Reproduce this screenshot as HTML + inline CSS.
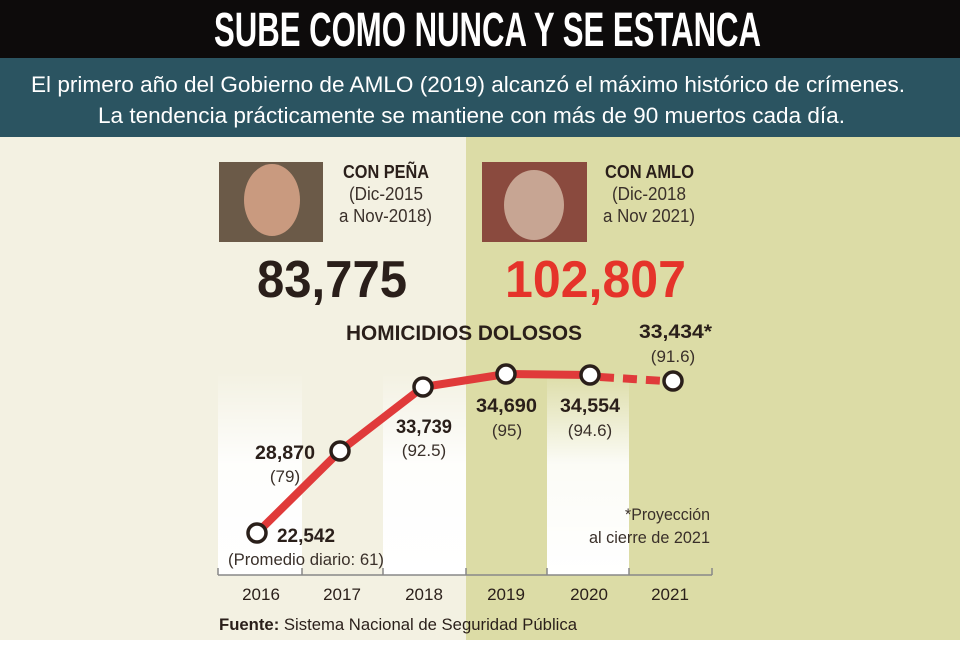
<!DOCTYPE html>
<html><head><meta charset="utf-8"><style>
body{margin:0;width:960px;height:640px;overflow:hidden;font-family:"Liberation Sans",sans-serif;}
</style></head><body>
<svg width="960" height="640" xmlns="http://www.w3.org/2000/svg" font-family="Liberation Sans, sans-serif">
<defs>
<linearGradient id="wg" x1="0" y1="0" x2="0" y2="1"><stop offset="0" stop-color="#fff" stop-opacity="0"/><stop offset="0.45" stop-color="#fff" stop-opacity="0.9"/><stop offset="1" stop-color="#fff"/></linearGradient>
</defs>
<rect x="0" y="0" width="960" height="640" fill="#f3f1e2"/>
<rect x="466" y="137" width="494" height="503" fill="#dcdca6"/>
<rect x="0" y="0" width="960" height="58" fill="#0d0b0b"/>
<rect x="0" y="58" width="960" height="79" fill="#2b5461"/>
<text x="214" y="46" textLength="547" lengthAdjust="spacingAndGlyphs" fill="#fff" font-size="48" font-weight="bold">SUBE COMO NUNCA Y SE ESTANCA</text>
<text x="31" y="92" textLength="874" lengthAdjust="spacingAndGlyphs" fill="#fff" font-size="22">El primero año del Gobierno de AMLO (2019) alcanzó el máximo histórico de crímenes.</text>
<text x="98" y="123" textLength="747" lengthAdjust="spacingAndGlyphs" fill="#fff" font-size="22">La tendencia prácticamente se mantiene con más de 90 muertos cada día.</text>
<rect x="218" y="372" width="84" height="203" fill="url(#wg)"/>
<rect x="383" y="372" width="83" height="203" fill="url(#wg)"/>
<rect x="547" y="372" width="82" height="203" fill="url(#wg)"/>
<rect x="219" y="162" width="104" height="80" fill="#6b5a48"/>
<ellipse cx="272" cy="200" rx="28" ry="36" fill="#c99a7f"/>
<rect x="482" y="162" width="105" height="80" fill="#8a4a3e"/>
<ellipse cx="534" cy="205" rx="30" ry="35" fill="#c7a593"/>
<g fill="#3a302a" font-size="18" lengthAdjust="spacingAndGlyphs">
<text x="343" y="178" textLength="86" fill="#2a1f1a" font-weight="bold" lengthAdjust="spacingAndGlyphs">CON PEÑA</text>
<text x="349" y="200" textLength="74" lengthAdjust="spacingAndGlyphs">(Dic-2015</text>
<text x="339" y="222" textLength="93" lengthAdjust="spacingAndGlyphs">a Nov-2018)</text>
<text x="605" y="178" textLength="89" fill="#2a1f1a" font-weight="bold" lengthAdjust="spacingAndGlyphs">CON AMLO</text>
<text x="612" y="200" textLength="74" lengthAdjust="spacingAndGlyphs">(Dic-2018</text>
<text x="603" y="222" textLength="92" lengthAdjust="spacingAndGlyphs">a Nov 2021)</text>
</g>
<text x="257" y="297" textLength="150" lengthAdjust="spacingAndGlyphs" fill="#2a1f1a" font-size="52" font-weight="bold">83,775</text>
<text x="505" y="297" textLength="181" lengthAdjust="spacingAndGlyphs" fill="#e5332a" font-size="52" font-weight="bold">102,807</text>
<text x="346" y="340" textLength="236" lengthAdjust="spacingAndGlyphs" fill="#2a1f1a" font-size="21" font-weight="bold">HOMICIDIOS DOLOSOS</text>
<line x1="218" y1="575" x2="712" y2="575" stroke="#888" stroke-width="1.5"/>
<g stroke="#888" stroke-width="1.5"><line x1="218" y1="568" x2="218" y2="575"/><line x1="302" y1="568" x2="302" y2="575"/><line x1="383" y1="568" x2="383" y2="575"/><line x1="466" y1="568" x2="466" y2="575"/><line x1="547" y1="568" x2="547" y2="575"/><line x1="629" y1="568" x2="629" y2="575"/><line x1="712" y1="568" x2="712" y2="575"/></g>
<g font-size="17" fill="#2a1f1a" text-anchor="middle"><text x="261" y="600">2016</text><text x="342" y="600">2017</text><text x="424" y="600">2018</text><text x="506" y="600">2019</text><text x="589" y="600">2020</text><text x="670" y="600">2021</text></g>
<polyline points="257,533 340,451 423,387 506,374 590,375" fill="none" stroke="#e03a3a" stroke-width="8" stroke-linejoin="round"/>
<line x1="600" y1="377" x2="665" y2="381" stroke="#e03a3a" stroke-width="8" stroke-dasharray="14,9"/>
<g fill="#fff" stroke="#2a1f1a" stroke-width="3.5">
<circle cx="257" cy="533" r="9"/><circle cx="340" cy="451" r="9"/><circle cx="423" cy="387" r="9"/><circle cx="506" cy="374" r="9"/><circle cx="590" cy="375" r="9"/><circle cx="673" cy="381" r="9"/></g>
<g font-size="19" fill="#2a1f1a">
<text x="277" y="542" textLength="58" lengthAdjust="spacingAndGlyphs" font-weight="bold">22,542</text>
<text x="228" y="565" textLength="156" lengthAdjust="spacingAndGlyphs" font-size="17" fill="#3a302a">(Promedio diario: 61)</text>
<text x="255" y="459" textLength="60" lengthAdjust="spacingAndGlyphs" font-weight="bold">28,870</text>
<text x="285" y="482" text-anchor="middle" font-size="17" fill="#3a302a">(79)</text>
<text x="396" y="433" textLength="56" lengthAdjust="spacingAndGlyphs" font-weight="bold">33,739</text>
<text x="424" y="456" text-anchor="middle" font-size="17" fill="#3a302a">(92.5)</text>
<text x="476" y="412" textLength="61" lengthAdjust="spacingAndGlyphs" font-weight="bold">34,690</text>
<text x="507" y="436" text-anchor="middle" font-size="17" fill="#3a302a">(95)</text>
<text x="560" y="412" textLength="60" lengthAdjust="spacingAndGlyphs" font-weight="bold">34,554</text>
<text x="590" y="436" text-anchor="middle" font-size="17" fill="#3a302a">(94.6)</text>
<text x="639" y="338" textLength="73" lengthAdjust="spacingAndGlyphs" font-weight="bold">33,434*</text>
<text x="673" y="362" text-anchor="middle" font-size="17" fill="#3a302a">(91.6)</text>
</g>
<text x="625" y="520" textLength="85" lengthAdjust="spacingAndGlyphs" font-size="17" fill="#3a302a">*Proyección</text>
<text x="589" y="543" textLength="121" lengthAdjust="spacingAndGlyphs" font-size="17" fill="#3a302a">al cierre de 2021</text>
<text x="219" y="630" textLength="358" lengthAdjust="spacingAndGlyphs" font-size="17" fill="#2a1f1a"><tspan font-weight="bold">Fuente:</tspan> Sistema Nacional de Seguridad Pública</text>
</svg>
</body></html>
